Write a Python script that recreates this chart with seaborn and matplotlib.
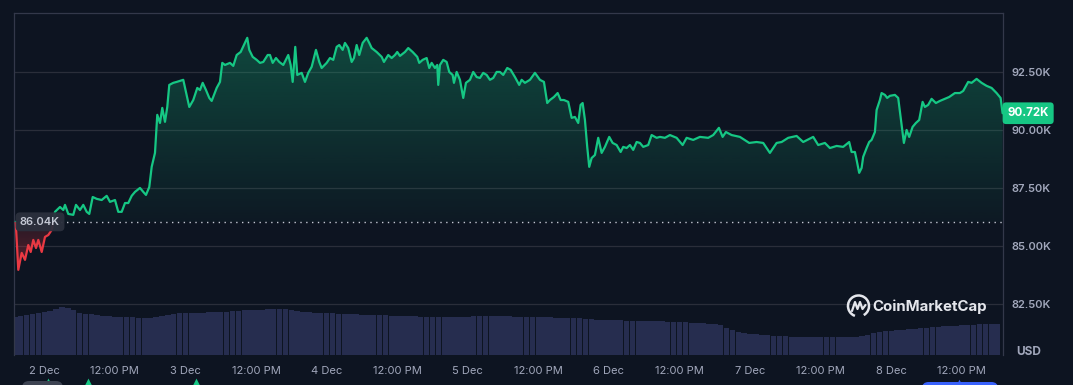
import numpy as np
import pandas as pd
import seaborn as sns
import matplotlib
matplotlib.use('Agg')
import matplotlib.pyplot as plt
from matplotlib.patches import Rectangle, FancyBboxPatch, Arc
from matplotlib.lines import Line2D
from matplotlib.colors import to_rgb
import matplotlib.transforms as mtransforms

# price, hours since 2 Dec 00:00
hours = [-4.86, -4.42, -3.84, -3.28, -2.72, -2.31, -1.87, -1.41, -1.02, -0.44,
         0.12, 0.68, 1.26, 1.82, 2.67, 3.23, 3.52, 4.08, 4.93, 5.39,
         6.07, 6.63, 7.21, 7.65, 8.23, 8.91, 9.76, 10.61, 11.17, 12.02,
         12.58, 13.16, 13.72, 14.28, 14.86, 15.42, 16.27, 16.83, 17.29, 17.85,
         18.26, 18.82, 19.21, 19.67, 20.06, 20.52, 20.91, 21.25, 21.93, 22.51,
         23.63, 24.09, 24.65, 25.33, 26.01, 26.47, 26.93, 27.49, 28.05, 28.46,
         29.31, 29.87, 30.26, 30.72, 31.57, 32.13, 32.71, 33.39, 33.95, 34.51,
         34.85, 35.43, 36.11, 36.67, 37.23, 37.98, 38.37, 38.83, 39.39, 39.95,
         40.63, 41.48, 41.89, 42.23, 42.67, 43.01, 43.76, 44.32, 44.88, 45.46,
         46.19, 46.75, 47.16, 48.01, 48.57, 49.13, 49.71, 50.15, 50.73, 51.12,
         51.68, 52.26, 52.65, 53.11, 53.55, 54.13, 54.81, 55.25, 55.66, 56.51,
         57.36, 57.75, 58.48, 59.06, 59.62, 60.01, 60.47, 61.32, 61.88, 62.63,
         63.41, 63.75, 64.33, 65.01, 65.45, 65.86, 66.42, 66.81, 66.98, 67.27,
         67.83, 68.41, 68.85, 69.43, 69.65, 70.11, 70.67, 71.23, 71.69, 72.37,
         72.93, 73.51, 74.07, 74.63, 75.21, 75.77, 76.33, 76.91, 77.47, 78.03,
         78.71, 79.29, 80.02, 80.75, 81.16, 81.72, 82.57, 83.42, 84.27, 84.95,
         85.51, 85.97, 86.65, 87.28, 87.79, 88.35, 89.08, 89.66, 90.22, 90.78,
         91.19, 91.53, 91.92, 92.31, 92.65, 93.06, 93.62, 94.18, 94.76, 95.32,
         96.05, 96.63, 97.31, 97.99, 98.43, 99.01, 99.57, 100.13, 100.71, 101.27,
         101.83, 102.68, 103.26, 104.11, 104.67, 105.52, 106.37, 107.51, 108.53, 109.21,
         110.33, 111.47, 112.88, 113.73, 114.70, 115.33, 115.89, 116.86, 118.27, 119.85,
         121.11, 122.23, 123.37, 124.51, 125.36, 126.48, 127.91, 129.03, 130.73, 131.58,
         132.72, 133.57, 134.71, 135.83, 136.85, 137.26, 137.82, 138.11, 138.55, 138.96,
         139.23, 139.81, 140.25, 140.66, 141.22, 141.51, 142.07, 142.36, 142.92, 143.31,
         143.77, 144.62, 145.18, 145.59, 146.15, 146.61, 147.05, 147.63, 148.19, 148.75,
         149.33, 149.72, 150.28, 150.86, 151.59, 152.27, 153.12, 153.85, 154.82, 155.67,
         156.23, 157.08, 157.66, 158.51, 159.36, 160.21, 161.06, 161.91, 162.59, 162.93]

prices = [86.04, 83.97, 84.70, 84.40, 85.04, 84.74, 85.26, 84.91, 85.26, 84.74,
          85.39, 85.47, 85.69, 86.47, 86.68, 86.55, 86.77, 86.38, 86.34, 86.77,
          86.55, 86.77, 86.47, 86.38, 87.11, 87.03, 86.98, 87.16, 86.90, 86.98,
          86.47, 86.47, 86.85, 86.85, 87.16, 87.33, 87.50, 87.33, 87.20, 87.54,
          88.41, 89.01, 90.65, 90.30, 90.95, 90.35, 90.99, 91.94, 92.03, 92.07,
          92.16, 91.64, 90.99, 91.29, 91.81, 91.72, 92.03, 91.72, 91.38, 91.25,
          91.81, 92.07, 92.89, 92.80, 92.89, 92.76, 93.23, 93.36, 93.66, 93.97,
          93.45, 93.15, 93.02, 92.89, 92.93, 93.23, 93.23, 92.89, 93.10, 92.93,
          92.80, 93.23, 92.80, 92.07, 93.58, 92.37, 92.46, 92.07, 92.46, 92.72,
          93.45, 92.93, 92.67, 92.89, 93.10, 93.02, 93.58, 93.66, 93.45, 93.75,
          93.53, 92.93, 93.10, 93.66, 93.23, 93.75, 93.97, 93.75, 93.53, 93.36,
          93.15, 92.93, 93.23, 93.10, 93.23, 93.36, 93.19, 93.36, 93.53, 93.36,
          93.15, 92.89, 93.02, 93.10, 92.67, 92.89, 92.67, 92.80, 91.94, 92.80,
          93.02, 92.93, 92.50, 92.37, 92.03, 92.50, 92.16, 91.38, 92.03, 92.16,
          92.50, 92.28, 92.24, 92.46, 92.37, 92.16, 92.24, 92.50, 92.50, 92.37,
          92.67, 92.59, 92.28, 91.94, 92.16, 92.03, 92.16, 92.46, 92.16, 92.07,
          91.16, 91.29, 91.42, 91.59, 91.29, 91.29, 91.21, 90.52, 90.56, 90.30,
          91.08, 91.16, 90.43, 89.27, 88.41, 88.79, 88.92, 89.66, 89.01, 89.27,
          89.70, 89.44, 89.35, 89.05, 89.27, 89.22, 89.35, 89.14, 89.48, 89.44,
          89.27, 89.35, 89.78, 89.66, 89.70, 89.66, 89.78, 89.66, 89.35, 89.66,
          89.57, 89.70, 89.66, 89.78, 90.09, 89.70, 89.91, 89.78, 89.70, 89.44,
          89.48, 89.44, 89.01, 89.44, 89.48, 89.66, 89.74, 89.48, 89.70, 89.35,
          89.44, 89.22, 89.31, 89.27, 89.48, 89.05, 89.05, 88.71, 88.15, 88.36,
          88.84, 89.22, 89.48, 89.57, 89.91, 90.86, 91.29, 91.59, 91.51, 91.38,
          91.47, 91.51, 91.38, 90.56, 89.44, 90.00, 89.70, 90.13, 90.30, 90.43,
          91.21, 90.99, 91.08, 91.34, 91.16, 91.25, 91.34, 91.42, 91.59, 91.59,
          91.68, 92.07, 92.03, 92.20, 92.03, 91.90, 91.81, 91.59, 91.38, 90.72]

# hourly volume (relative bar heights)
vol_hours = list(range(-5, 163))
volume = [38, 39, 40, 41, 42, 43, 44, 46, 48, 47, 45, 42, 41, 41, 40, 39, 39, 38, 38, 38,
          38, 37, 37, 37, 38, 39, 40, 41, 42, 42, 42, 42, 42, 43, 43, 43, 43, 44, 44, 45,
          45, 45, 45, 46, 46, 46, 46, 45, 44, 43, 43, 42, 42, 42, 42, 41, 41, 41, 41, 40,
          40, 40, 40, 40, 39, 39, 39, 39, 39, 38, 38, 38, 38, 38, 38, 38, 38, 38, 39, 39,
          39, 39, 39, 39, 39, 38, 38, 38, 38, 38, 38, 38, 37, 37, 37, 37, 37, 36, 36, 35,
          35, 35, 35, 35, 34, 34, 34, 34, 34, 34, 34, 33, 33, 33, 33, 32, 32, 32, 31, 31,
          30, 27, 25, 23, 22, 21, 21, 20, 20, 19, 19, 19, 18, 18, 18, 18, 18, 18, 18, 18,
          18, 18, 18, 18, 19, 20, 22, 23, 24, 24, 25, 25, 26, 26, 27, 27, 28, 28, 29, 29,
          29, 30, 30, 30, 31, 31, 31, 31]

tick_hours = list(range(0, 157, 12))
tick_labels = ['2 Dec', '12:00 PM', '3 Dec', '12:00 PM', '4 Dec', '12:00 PM', '5 Dec',
               '12:00 PM', '6 Dec', '12:00 PM', '7 Dec', '12:00 PM', '8 Dec', '12:00 PM']
y_ticks = [82.5, 85.0, 87.5, 90.0, 92.5]
open_price = 86.04
last_price = 90.72
event_hours = [0.68, 7.5, 25.8]

BG = '#0d1421'
GREEN = '#16c784'
RED = '#ea3943'
GRID = '#2a2e3a'
TXT = '#a1a7bb'

sns.set_theme(style='dark')
plt.rcParams['font.family'] = ['Inter', 'DejaVu Sans']

hours = np.array(hours)
prices = np.array(prices)
xmin, xmax = -5.15, 163.0
ymin, ymax = 80.30, 95.04

fig = plt.figure(figsize=(10.73, 3.85), dpi=100, facecolor=BG)
rect = [14 / 1073, 30 / 385, 989 / 1073, 342 / 385]

# volume bars underneath
axv = fig.add_axes(rect, facecolor=BG)
axv.bar(vol_hours, volume, width=0.93, color='#262d4f', linewidth=0, align='center')
axv.set_xlim(xmin, xmax)
axv.set_ylim(0, 342)
axv.axis('off')

ax = fig.add_axes(rect)
ax.patch.set_visible(False)
ax.set_xlim(xmin, xmax)
ax.set_ylim(ymin, ymax)

# gradient fills
green_fill = ax.fill_between(hours, open_price, np.maximum(prices, open_price), color='none', lw=0)
grad = np.zeros((256, 1, 4))
grad[..., :3] = to_rgb(GREEN)
grad[:, 0, 3] = np.linspace(0.03, 0.30, 256)
im = ax.imshow(grad, extent=[xmin, xmax, open_price, 94.2], origin='lower', aspect='auto', zorder=1)
im.set_clip_path(green_fill.get_paths()[0], transform=ax.transData)

red_fill = ax.fill_between(hours, np.minimum(prices, open_price), open_price, color='none', lw=0)
rgrad = np.zeros((256, 1, 4))
rgrad[..., :3] = to_rgb(RED)
rgrad[:, 0, 3] = np.linspace(0.35, 0.12, 256)
im2 = ax.imshow(rgrad, extent=[xmin, xmax, 83.9, open_price], origin='lower', aspect='auto', zorder=1)
im2.set_clip_path(red_fill.get_paths()[0], transform=ax.transData)
ax.set_xlim(xmin, xmax)
ax.set_ylim(ymin, ymax)

# price line, green above the open price, red below
sns.lineplot(x=hours, y=prices, ax=ax, color=GREEN, lw=1.6, sort=False, estimator=None, zorder=3)
above = Rectangle((xmin, open_price), xmax - xmin, ymax - open_price, transform=ax.transData)
ax.lines[-1].set_clip_path(above)
sns.lineplot(x=hours, y=prices, ax=ax, color=RED, lw=1.6, sort=False, estimator=None, zorder=3)
below = Rectangle((xmin, ymin), xmax - xmin, open_price - ymin, transform=ax.transData)
ax.lines[-1].set_clip_path(below)

ax.axhline(open_price, color='#c3c7d2', lw=1.0, ls=(0, (1, 3.2)), zorder=2)

# grid and frame
ax.set_yticks(y_ticks)
ax.set_yticklabels([f'{v:.2f}K' for v in y_ticks])
ax.yaxis.tick_right()
ax.set_xticks(tick_hours)
ax.set_xticklabels(tick_labels)
ax.grid(axis='y', color=GRID, lw=0.9)
ax.grid(axis='x', visible=False)
ax.tick_params(axis='y', length=0, pad=6, labelsize=8, labelcolor=TXT)
ax.tick_params(axis='x', length=0, pad=8, labelsize=8, labelcolor=TXT)
for lab in ax.get_yticklabels():
    lab.set_fontweight('semibold')
ax.set_xlabel('')
ax.set_ylabel('')
for side in ['top', 'left', 'right']:
    ax.spines[side].set_visible(True)
    ax.spines[side].set_color('#33384a')
    ax.spines[side].set_linewidth(0.9)
ax.spines['bottom'].set_visible(False)

# price labels
ax.text(-0.73, open_price, '86.04K', ha='center', va='center', fontsize=8, fontweight='semibold',
        color='#c4c8d4', zorder=5,
        bbox=dict(boxstyle='round,pad=0.4,rounding_size=0.4', fc='#2b303d', ec='none', alpha=0.95))
trans = mtransforms.blended_transform_factory(ax.transAxes, ax.transData)
ax.text(1.0045, last_price, '90.72K', transform=trans, ha='left', va='center', fontsize=8.3,
        fontweight='bold', color='white', clip_on=False, zorder=6,
        bbox=dict(boxstyle='round,pad=0.42,rounding_size=0.3', fc=GREEN, ec='none'))

fig.text(1029 / 1073, 1 - 352 / 385, 'USD', ha='center', va='center', fontsize=8.5,
         fontweight='bold', color=TXT)

# watermark
fig.add_artist(Arc((8.585, 0.79), 0.21, 0.21, theta1=-60, theta2=250,
                   transform=fig.dpi_scale_trans, color='#e4e6ec', lw=1.8))
fig.add_artist(Line2D([8.52, 8.55, 8.575, 8.60, 8.625, 8.655], [0.74, 0.83, 0.76, 0.83, 0.76, 0.80],
                      transform=fig.dpi_scale_trans, color='#e4e6ec', lw=1.6))
fig.text(872 / 1073, 1 - 307 / 385, 'CoinMarketCap', ha='left', va='center', fontsize=10.8,
         fontweight='bold', color='#e4e6ec')

# event markers under the time axis
fig.add_artist(FancyBboxPatch((0.22, -0.10), 0.41, 0.14, boxstyle='round,pad=0,rounding_size=0.07',
                              transform=fig.dpi_scale_trans, fc='#3d4352', ec='none'))
fig.add_artist(FancyBboxPatch((9.22, -0.10), 0.76, 0.13, boxstyle='round,pad=0,rounding_size=0.065',
                              transform=fig.dpi_scale_trans, fc='#3861fb', ec='none'))
mtrans = mtransforms.blended_transform_factory(ax.transData, ax.transAxes)
ax.scatter(event_hours, [-0.088] * len(event_hours), marker='^', s=100, color=GREEN,
           transform=mtrans, clip_on=False, zorder=6, linewidths=0)
ax.scatter([155.6], [-0.082], marker='^', s=30, color='#3861fb',
           transform=mtrans, clip_on=False, zorder=6, linewidths=0)

fig.savefig('out.png', dpi=100, facecolor=BG)
